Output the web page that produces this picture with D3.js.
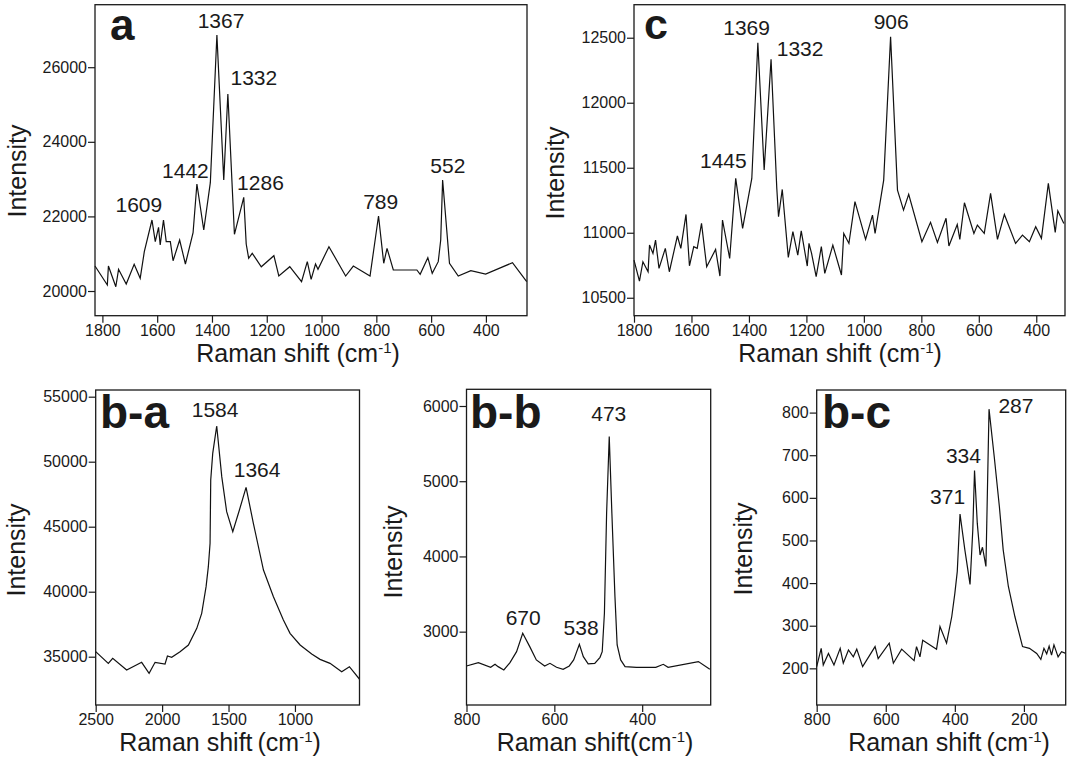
<!DOCTYPE html>
<html lang="en">
<head>
<meta charset="UTF-8">
<title>Raman spectra</title>
<script src="https://d3js.org/d3.v7.min.js"></script>
<style>
  body { margin: 0; background: #fff; }
  svg text { font-family: "Liberation Sans", Arial, Helvetica, sans-serif; fill: #1a1a1a; }
  .tick line { stroke: #1a1a1a; stroke-width: 1.2px; }
  .tick text { font-size: 16px; }
  .frame { fill: none; stroke: #1a1a1a; stroke-width: 1.3px; }
  .spectrum { fill: none; stroke: #111; stroke-width: 1.2px; stroke-linejoin: miter; }
</style>
</head>
<body>
<div id="chart"></div>
<script>
// ---- data ----
// panel a
const aShift = [1827,1782,1778,1751,1741,1713,1684,1662,1647,1619,1607,1595,1589,1577,1567,1552,1542,1518,1497,1469,
  1455,1430,1406,1382,1357,1342,1318,1284,1275,1266,1253,1220,1174,1156,1116,1073,1052,1038,1022,1013,
  973,912,884,823,792,773,761,738,652,640,612,596,574,565,558,533,501,455,401,303,251]
const aIntensity = [20670,20161,20670,20115,20582,20188,20716,20340,21054,21904,21322,21708,21233,21904,21322,21322,20812,21367,20724,21563,
  22869,21635,22904,26863,22976,25282,21520,22512,21260,20877,21011,20651,20946,20402,20651,20249,20786,20314,20724,20582,
  21188,20402,20670,20402,22011,20743,21145,20563,20563,20448,20893,20475,20786,21367,22976,20743,20402,20544,20456,20759,20249]
const aPeakText = ["1609","1442","1367","1332","1286","789","552"]
const aPeakX = [1667,1497,1367,1247,1223,784,539]
const aPeakY = [22126,23030,27051,25523,22708,22198,23164]
const aXTicks = [1800,1600,1400,1200,1000,800,600,400]
const aYTicks = [20000,22000,24000,26000]

// panel c
const cShift = [1800,1781,1769,1751,1746,1734,1725,1713,1691,1677,1649,1637,1619,1607,1592,1580,1565,1547,1516,1501,
  1492,1467,1446,1422,1390,1369,1347,1323,1303,1297,1284,1263,1247,1230,1218,1197,1191,1182,1166,1148,
  1136,1108,1078,1070,1052,1031,994,970,961,931,907,883,862,844,798,768,744,714,704,675,
  666,650,617,605,581,559,535,511,472,448,424,402,382,358,334,325,304]
const cIntensity = [10790,10628,10777,10700,10905,10841,10944,10726,10880,10700,10975,10880,11141,10746,10893,10880,11072,10739,10872,10667,
  11098,10803,11418,11034,11418,12462,11482,12334,11341,11123,11333,10810,11008,10828,11015,10744,10918,10841,10662,10893,
  10687,10905,10675,10995,10918,11239,10949,11136,10995,11405,12508,11328,11174,11295,10931,11080,10926,11111,10898,11064,
  10949,11231,10995,11059,10995,11303,10949,11141,10918,10982,10931,11046,10957,11380,11003,11169,11072]
const cPeakText = ["1445","1369","1332","906"]
const cPeakX = [1489,1408,1222,905]
const cPeakY = [11500,12521,12359,12564]
const cXTicks = [1800,1600,1400,1200,1000,800,600,400]
const cYTicks = [10500,11000,11500,12000,12500]

// panel b-a
const baShift = [2500,2405,2372,2267,2154,2098,2053,1978,1960,1928,1865,1802,1739,1702,1669,1652,1639,1634,1619,1589,
  1551,1514,1468,1418,1368,1313,1237,1162,1087,1037,961,874,811,736,648,590,515]
const baIntensity = [35387,34490,34879,33977,34567,33721,34567,34438,35054,34951,35387,35900,37182,38336,40387,41925,43720,48592,50643,52746,
  48848,46156,44617,46284,48028,45259,41669,39618,37823,36797,35900,35208,34797,34490,33849,34233,33285]
const baPeakText = ["1584","1364"]
const baPeakX = [1601,1285]
const baPeakY = [53463,48848]
const baXTicks = [2500,2000,1500,1000]
const baYTicks = [35000,40000,45000,50000,55000]

// panel b-b
const bbShift = [800,773,745,735,728,715,701,686,672,656,641,622,610,595,580,566,556,543,534,523,
  508,496,491,486,481,475,469,462,457,449,439,413,369,352,341,272,246]
const bbIntensity = [2544,2588,2526,2566,2535,2491,2588,2734,2978,2801,2624,2544,2579,2526,2500,2544,2624,2832,2668,2571,
  2579,2659,2734,3244,4574,5593,4574,3466,2823,2624,2535,2526,2526,2566,2526,2602,2500]
const bbPeakText = ["670","538","473"]
const bbPeakX = [671,539,476]
const bbPeakY = [3089,2956,5807]
const bbXTicks = [800,600,400]
const bbYTicks = [3000,4000,5000,6000]

// panel b-c
const bcShift = [800,787,781,766,750,732,723,708,694,684,667,631,622,590,578,554,518,511,501,493,
  453,443,424,409,400,393,385,371,356,348,343,335,327,320,317,310,301,286,271,260,
  245,226,204,184,163,151,142,134,127,120,113,101,91,79]
const bcIntensity = [204,247,208,235,208,247,212,243,227,245,204,251,223,259,212,245,218,251,227,266,
  245,298,259,321,376,427,562,478,397,525,664,540,466,484,471,439,808,697,579,478,
  392,321,251,247,235,221,247,234,252,231,255,227,239,235]
const bcPeakText = ["371","334","287"]
const bcPeakX = [421,375,223]
const bcPeakY = [586,681,798]
const bcXTicks = [800,600,400,200]
const bcYTicks = [200,300,400,500,600,700,800]

// ---- layout of the five panels (pixels) ----
const panels = [
  {tag: "a",   x0: 95,    x1: 527,    y0: 4.7,   y1: 315.7, xDom: [1827, 250], yDom: [19338, 27676],
   shift: aShift, inten: aIntensity, pText: aPeakText, pX: aPeakX, pY: aPeakY, xt: aXTicks, yt: aYTicks,
   tagX: 110, tagY: 40, tagSize: 44, titleX: 298, sep: "  ", yTitleX: 26, yTitleY: 171},
  {tag: "c",   x0: 634,   x1: 1065,   y0: 4.7,   y1: 315.7, xDom: [1800, 300], yDom: [10362, 12754],
   shift: cShift, inten: cIntensity, pText: cPeakText, pX: cPeakX, pY: cPeakY, xt: cXTicks, yt: cYTicks,
   tagX: 644, tagY: 39, tagSize: 43, titleX: 840, sep: " ", yTitleX: 564, yTitleY: 173},
  {tag: "b-a", x0: 95.7,  x1: 359.5,  y0: 390,   y1: 705,   xDom: [2500, 514], yDom: [31285, 55515],
   shift: baShift, inten: baIntensity, pText: baPeakText, pX: baPeakX, pY: baPeakY, xt: baXTicks, yt: baYTicks,
   tagX: 100, tagY: 428, tagSize: 46, titleX: 220, sep: "\u2009", yTitleX: 25, yTitleY: 550},
  {tag: "b-b", x0: 466.5, x1: 710.7,  y0: 389.3, y1: 705,   xDom: [800, 244], yDom: [2025, 6222],
   shift: bbShift, inten: bbIntensity, pText: bbPeakText, pX: bbPeakX, pY: bbPeakY, xt: bbXTicks, yt: bbYTicks,
   tagX: 470, tagY: 428, tagSize: 46, titleX: 595, sep: "", yTitleX: 402, yTitleY: 552},
  {tag: "b-c", x0: 816.7, x1: 1065.7, y0: 390,   y1: 705,   xDom: [800, 79], yDom: [114, 853],
   shift: bcShift, inten: bcIntensity, pText: bcPeakText, pX: bcPeakX, pY: bcPeakY, xt: bcXTicks, yt: bcYTicks,
   tagX: 822, tagY: 428, tagSize: 46, titleX: 949, sep: "\u2009", yTitleX: 752, yTitleY: 549}
]

const svg = d3.select("#chart").append("svg")
  .attr("width", 1074)
  .attr("height", 758)

svg.append("rect").attr("width", 1074).attr("height", 758).attr("fill", "#fff")

function drawPanel(p) {
  const x = d3.scaleLinear().domain(p.xDom).range([p.x0, p.x1])
  const y = d3.scaleLinear().domain(p.yDom).range([p.y1, p.y0])
  const g = svg.append("g")

  // y axis ticks on the left edge
  g.append("g")
    .attr("transform", `translate(${p.x0},0)`)
    .call(d3.axisLeft(y).tickValues(p.yt).tickFormat(d3.format("d"))
      .tickSize(7).tickPadding(1).tickSizeOuter(0))
    .call(s => s.select(".domain").remove())

  // x axis ticks on the bottom edge
  g.append("g")
    .attr("transform", `translate(0,${p.y1})`)
    .call(d3.axisBottom(x).tickValues(p.xt).tickFormat(d3.format("d"))
      .tickSize(7).tickPadding(2).tickSizeOuter(0))
    .call(s => s.select(".domain").remove())

  // spectrum
  const pts = p.shift.map((d, i) => [d, p.inten[i]])
  g.append("path")
    .datum(pts)
    .attr("class", "spectrum")
    .attr("d", d3.line().x(d => x(d[0])).y(d => y(d[1])))

  // box
  g.append("rect")
    .attr("class", "frame")
    .attr("x", p.x0).attr("y", p.y0)
    .attr("width", p.x1 - p.x0).attr("height", p.y1 - p.y0)

  // peak labels
  g.selectAll(".peak")
    .data(p.pText)
    .join("text")
      .attr("class", "peak")
      .attr("x", (d, i) => x(p.pX[i]))
      .attr("y", (d, i) => y(p.pY[i]))
      .attr("text-anchor", "middle")
      .style("font-size", "21px")
      .text(d => d)

  // panel tag
  g.append("text")
    .attr("x", p.tagX).attr("y", p.tagY)
    .style("font-size", p.tagSize + "px").style("font-weight", "bold")
    .text(p.tag)

  // x title
  const xt = g.append("text")
    .attr("x", p.titleX).attr("y", p.y1 + 46)
    .attr("text-anchor", "middle")
    .style("font-size", "25px")
  xt.append("tspan").text("Raman shift" + p.sep + "(cm")
  xt.append("tspan").attr("dy", -9).style("font-size", "15px").text("-1")
  xt.append("tspan").attr("dy", 9).text(")")

  // y title
  g.append("text")
    .attr("transform", `translate(${p.yTitleX},${p.yTitleY}) rotate(-90)`)
    .attr("text-anchor", "middle")
    .style("font-size", "25px")
    .text("Intensity")
}

panels.forEach(drawPanel)
</script>
</body>
</html>
